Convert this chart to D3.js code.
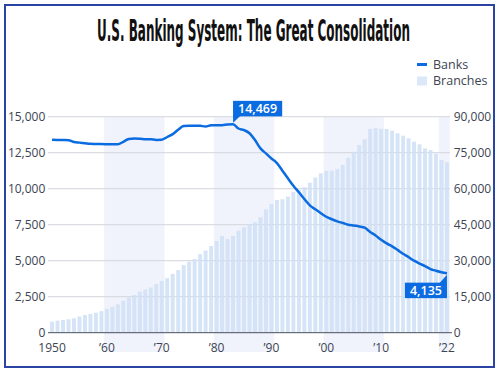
<!DOCTYPE html>
<html>
<head>
<meta charset="utf-8">
<script src="https://cdn.jsdelivr.net/npm/d3@7"></script>
<style>
  body { margin: 0; background: #fff; }
  svg text { font-family: "Open Sans", "Noto Sans", sans-serif; }
</style>
</head>
<body>
<div id="chart"></div>
<script>
// ----------------------------------------------- //
// Data
var years = d3.range(1950, 2023);

var banks = [
    13400, 13390, 13380, 13370, 13240, 13200, 13160, 13120, 13100, 13100,
    13090, 13080, 13080, 13260, 13450, 13480, 13470, 13440, 13430, 13390,
    13400, 13590, 13790, 14100, 14350, 14380, 14380, 14370, 14320, 14400,
    14410, 14410, 14460, 14469, 14180, 14070, 13850, 13380, 12800, 12450,
    12100, 11780, 11250, 10720, 10200, 9750, 9280, 8840, 8570, 8300,
    8050, 7880, 7730, 7620, 7500, 7440, 7380, 7290, 7000, 6750,
    6450, 6200, 6000, 5750, 5480, 5250, 5000, 4800, 4630, 4420,
    4300, 4200, 4135
];

var branches = [
    4600, 5000, 5300, 5600, 6000, 6700, 7400, 7800, 8300, 9000,
    9900, 10800, 11800, 13300, 14600, 15700, 17100, 18000, 18800, 20300,
    21500, 22700, 24500, 26100, 28200, 29600, 30700, 32700, 34200, 36100,
    38200, 40300, 39000, 40300, 42500, 43900, 45200, 46000, 48100, 51400,
    53600, 55300, 55600, 56700, 58700, 59500, 60600, 62500, 64700, 66400,
    67400, 67500, 68100, 69900, 72900, 75400, 78200, 80600, 84900, 85200,
    84900, 84900, 84200, 83100, 82100, 81000, 79600, 78500, 76800, 76100,
    74700, 72000, 71000
];

var xTickYears = [1950, 1960, 1970, 1980, 1990, 2000, 2010, 2022];
var xTickLabels = ["1950", "\u201960", "\u201970", "\u201980", "\u201990", "\u201900", "\u201910", "\u201922"];
var leftTicks = [0, 2500, 5000, 7500, 10000, 12500, 15000];
var rightTicks = [0, 15000, 30000, 45000, 60000, 75000, 90000];
var shadeRanges = [[1960, 1970], [1980, 1990], [2000, 2010], [2021, 2022]];
var peakYear = 1983;
var lastYear = 2022;

// ----------------------------------------------- //
var svgWidth = 500;
var svgHeight = 371;

var plot = { left: 49.3, right: 449.7, top: 116.7, bottom: 332.7 };

var svg = d3.select("#chart")
    .append("svg")
    .attr("width", svgWidth)
    .attr("height", svgHeight);

// scales
var xBand = d3.scaleBand()
    .domain(years)
    .range([plot.left, plot.right])
    .paddingInner(0.28)
    .paddingOuter(0.14);

var step = xBand.step();
function xLeft(yr) { return plot.left + (yr - 1950) * step; }
function xMid(yr) { return xLeft(yr) + step / 2; }

var yLeft = d3.scaleLinear().domain([0, 15000]).range([plot.bottom, plot.top]);
var yRight = d3.scaleLinear().domain([0, 90000]).range([plot.bottom, plot.top]);

var textColor = "#3d4452";
var blue = "#0b6be0";

// ----------------------------------------------- //
// Title, squeezed to the reference width
var title = svg.append("text")
    .attr("text-anchor", "middle")
    .style("font-family", "'Liberation Sans Narrow', 'DejaVu Sans Condensed', sans-serif")
    .style("font-weight", "bold")
    .style("font-size", "30px")
    .style("fill", "#111")
    .text("U.S. Banking System: The Great Consolidation");
var titleW = title.node().getComputedTextLength();
title.attr("transform", `translate(253.5, 40.7) scale(${Math.min(1, 313 / titleW)}, 1)`);

// Legend
svg.append("rect")
    .attr("x", 417).attr("y", 63).attr("width", 10).attr("height", 3)
    .attr("fill", blue);
svg.append("text")
    .attr("x", 433).attr("y", 68.5)
    .style("font-size", "12.5px").style("fill", textColor)
    .text("Banks");
svg.append("rect")
    .attr("x", 417).attr("y", 76.5).attr("width", 10).attr("height", 9)
    .attr("fill", "#dce7f8");
svg.append("text")
    .attr("x", 433).attr("y", 85)
    .style("font-size", "12.5px").style("fill", textColor)
    .text("Branches");

// ----------------------------------------------- //
// Decade shading
svg.append("g")
    .selectAll("rect")
    .data(shadeRanges)
    .enter()
    .append("rect")
    .attr("x", d => xLeft(d[0]))
    .attr("y", plot.top)
    .attr("width", d => xLeft(d[1]) + step - xLeft(d[0]))
    .attr("height", 352 - plot.top)
    .attr("fill", "#f0f3fb");

// Gridlines
svg.append("g")
    .selectAll("line")
    .data(leftTicks.slice(1))
    .enter()
    .append("line")
    .attr("x1", 48).attr("x2", 450)
    .attr("y1", d => yLeft(d)).attr("y2", d => yLeft(d))
    .attr("stroke", "#d3d6dc")
    .attr("stroke-width", 1);

// Branch bars
svg.append("g")
    .selectAll("rect")
    .data(years)
    .enter()
    .append("rect")
    .attr("x", d => xBand(d))
    .attr("width", xBand.bandwidth())
    .attr("y", (d, i) => yRight(branches[i]))
    .attr("height", (d, i) => plot.bottom - yRight(branches[i]))
    .attr("fill", "#cfdff6")
    .attr("opacity", 0.85);

// Baseline
svg.append("line")
    .attr("x1", 48).attr("x2", 452)
    .attr("y1", plot.bottom).attr("y2", plot.bottom)
    .attr("stroke", "#4a505c")
    .attr("stroke-width", 1);

// ----------------------------------------------- //
// Axes (labels only)
var leftAxis = d3.axisLeft(yLeft)
    .tickValues(leftTicks)
    .tickFormat(d3.format(","))
    .tickSize(0)
    .tickPadding(4);

var rightAxis = d3.axisRight(yRight)
    .tickValues(rightTicks)
    .tickFormat(d3.format(","))
    .tickSize(0)
    .tickPadding(4);

var bottomAxis = d3.axisBottom(xBand)
    .tickValues(xTickYears)
    .tickFormat((d, i) => xTickLabels[i])
    .tickSize(0)
    .tickPadding(10.5);

function styleAxis(g) {
    g.select(".domain").remove();
    g.selectAll("text")
        .style("font-family", "'Open Sans', sans-serif")
        .style("font-size", "12px")
        .style("fill", textColor);
}

svg.append("g")
    .attr("transform", `translate(${plot.left}, 0)`)
    .call(leftAxis)
    .call(styleAxis);

svg.append("g")
    .attr("transform", `translate(${plot.right}, 0)`)
    .call(rightAxis)
    .call(styleAxis);

svg.append("g")
    .attr("transform", `translate(0, ${plot.bottom})`)
    .call(bottomAxis)
    .call(styleAxis);

// ----------------------------------------------- //
// Banks line
var line = d3.line()
    .x((d, i) => xMid(years[i]))
    .y(d => yLeft(d))
    .curve(d3.curveMonotoneX);

svg.append("path")
    .datum(banks)
    .attr("d", line)
    .attr("fill", "none")
    .attr("stroke", blue)
    .attr("stroke-width", 2.5)
    .attr("stroke-linejoin", "round");

// ----------------------------------------------- //
// Annotations
var fmt = d3.format(",");

function addLabel(year, value, above) {
    var px = xMid(year);
    var py = yLeft(value);
    var g = svg.append("g");
    var label = g.append("text")
        .style("font-size", "12.5px")
        .style("font-weight", "600")
        .style("fill", "#fff")
        .text(fmt(value));
    var w = label.node().getComputedTextLength() + 10;
    var h = 15.5;
    var bx, by;
    if (above) {
        bx = px;
        by = py - 8 - h;
        g.insert("path", "text")
            .attr("d", `M${px},${by + h - 1}L${px + 8},${by + h - 1}L${px},${py - 1.5}Z`)
            .attr("fill", blue);
    } else {
        bx = px - w;
        by = py + 9.5;
        g.insert("path", "text")
            .attr("d", `M${px},${by + 1}L${px - 8},${by + 1}L${px},${py + 1.5}Z`)
            .attr("fill", blue);
    }
    g.insert("rect", "text")
        .attr("x", bx).attr("y", by)
        .attr("width", w).attr("height", h)
        .attr("fill", blue);
    label.attr("x", bx + w / 2)
        .attr("y", by + h / 2)
        .attr("dy", "0.36em")
        .attr("text-anchor", "middle");
}

addLabel(peakYear, banks[years.indexOf(peakYear)], true);
addLabel(lastYear, banks[years.indexOf(lastYear)], false);

// ----------------------------------------------- //
// Frame
svg.append("rect")
    .attr("x", 5).attr("y", 5)
    .attr("width", 489).attr("height", 362)
    .attr("fill", "none")
    .attr("stroke", "#2b44a3")
    .attr("stroke-width", 2);
</script>
</body>
</html>
